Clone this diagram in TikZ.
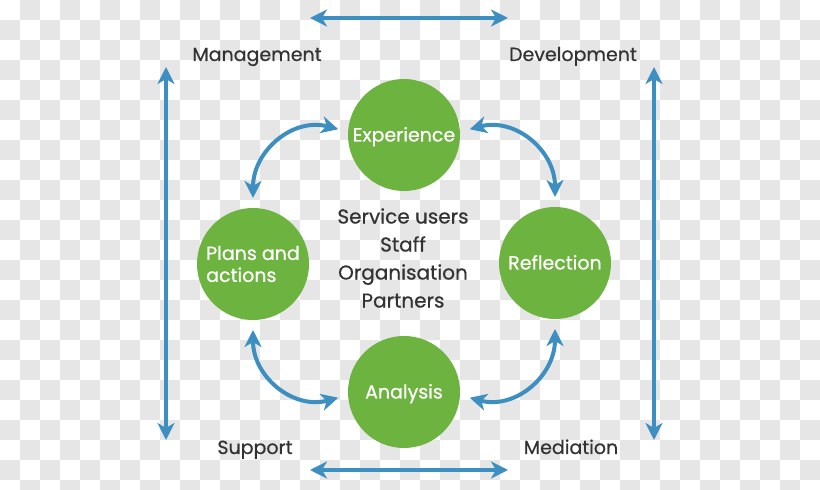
\documentclass[tikz,border=0pt]{standalone}
\usepackage{fontspec}
\setmainfont{Poppins}
\newfontfamily\medfont{Poppins}[FakeBold=0.6]
\usetikzlibrary{arrows.meta}
\definecolor{leaf}{HTML}{6DB33F}
\definecolor{sky}{HTML}{3D8FC2}
\definecolor{ink}{HTML}{333333}
\definecolor{checker}{HTML}{E6E6E6}
\tikzset{
  stage/.style={circle, fill=leaf, minimum size=112pt, inner sep=0pt, outer sep=10pt, text=white, font=\medfont\fontsize{19}{22}\selectfont},
  oneline/.style={text height=16pt, text depth=3pt},
  corner/.style={text=ink, font=\medfont\fontsize{19}{22}\selectfont, text height=14pt, text depth=4pt, inner sep=0pt},
  who/.style={text=ink, font=\medfont\fontsize{20}{28}\selectfont, align=center},
  biarrow/.style={draw=sky, line width=4pt, {Stealth[length=17pt,width=17pt,inset=5pt]}-{Stealth[length=17pt,width=17pt,inset=5pt]}},
  tile/.style={fill=checker, draw=none},
}
\begin{document}
\begin{tikzpicture}[x=1pt,y=1pt]
\fill[white] (0,0) rectangle (820,490);
\foreach \cx in {20,60,...,800}{
  \foreach \cy in {490,450,...,30}{
    \path[tile] (\cx,\cy) rectangle (\cx+20,\cy-20);
  }
}
\foreach \cx in {0,40,...,800}{
  \foreach \cy in {470,430,...,30}{
    \path[tile] (\cx,\cy) rectangle (\cx+20,\cy-20);
  }
}
\foreach \cx in {20,60,...,800}{
  \path[tile] (\cx,10) rectangle (\cx+20,0);
}
% circles
\node[stage, oneline] (exp) at (404,355) {Experience};
\node[stage, oneline] (refl) at (555,227) {Reflection};
\node[stage, oneline] (ana) at (404,98) {Analysis};
\node[stage, align=left] (plans) at (253,226) {Plans and\\actions};
% centre text
\node[who] (who) at (403,232) {Service users\\Staff\\Organisation\\Partners};
% corner labels
\node[corner] (mgmt) at (257,434) {Management};
\node[corner] (dev) at (573,434) {Development};
\node[corner] (sup) at (255,41) {Support};
\node[corner] (med) at (571,41) {Mediation};
% outer arrows
\coordinate (tl) at (310,472); \coordinate (tr) at (508,472);
\coordinate (bl) at (310,20); \coordinate (br) at (508,20);
\coordinate (lt) at (166,423); \coordinate (lb) at (166,50);
\coordinate (rt) at (654,423); \coordinate (rb) at (654,50);
\draw[biarrow] (tl) -- (tr);
\draw[biarrow] (bl) -- (br);
\draw[biarrow] (lt) -- (lb);
\draw[biarrow] (rt) -- (rb);
% cycle arrows
\draw[biarrow] (exp.175) to[out=165,in=90,looseness=1.1] (plans.90);
\draw[biarrow] (exp.5) to[out=15,in=90,looseness=1.1] (refl.90);
\draw[biarrow] (ana.185) to[out=195,in=270,looseness=1.1] (plans.270);
\draw[biarrow] (ana.355) to[out=-15,in=270,looseness=1.1] (refl.270);
\useasboundingbox (0,0) rectangle (820,490);
\end{tikzpicture}
\end{document}
